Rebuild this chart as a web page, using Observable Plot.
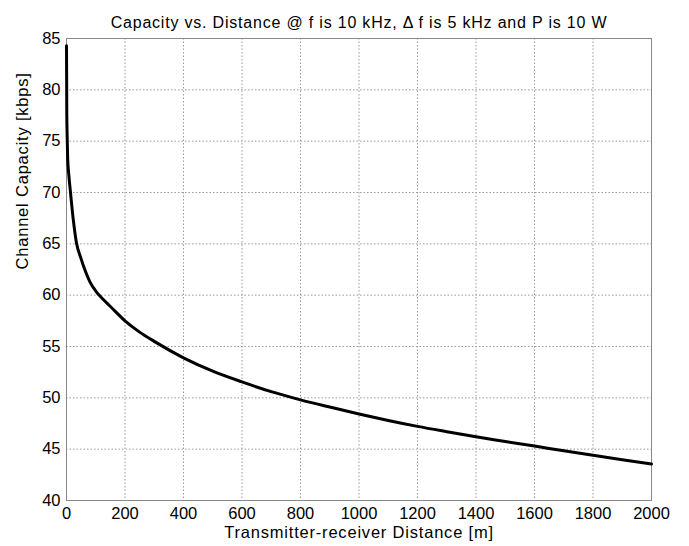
<!DOCTYPE html>
<html>
<head>
<meta charset="utf-8">
<script src="https://cdn.jsdelivr.net/npm/d3@7"></script>
<script src="https://cdn.jsdelivr.net/npm/@observablehq/plot@0.6"></script>
<style>
  html, body { margin: 0; padding: 0; background: #fff; }
</style>
</head>
<body>
<div id="chart"></div>
<script>
const distance = [0, 1, 2, 4, 8, 14, 23, 34, 48, 65, 80, 100, 125, 150, 200, 250, 300, 400, 500, 600, 700, 800, 900, 1000, 1100, 1200, 1300, 1400, 1500, 1600, 1700, 1800, 1900, 2000];
const capacity = [84.3, 77.5, 75.8, 73.3, 71.7, 69.9, 67.4, 65.1, 63.7, 62.3, 61.3, 60.4, 59.6, 58.9, 57.5, 56.4, 55.5, 53.9, 52.6, 51.55, 50.6, 49.8, 49.1, 48.43, 47.8, 47.22, 46.7, 46.2, 45.75, 45.3, 44.85, 44.4, 43.97, 43.55];
const xTicks = [0, 200, 400, 600, 800, 1000, 1200, 1400, 1600, 1800, 2000];
const yTicks = [40, 45, 50, 55, 60, 65, 70, 75, 80, 85];
const titleText = "Capacity vs. Distance @ f is 10 kHz, \u0394 f is 5 kHz and P is 10 W";
const xLabel = "Transmitter-receiver Distance [m]";
const yLabel = "Channel Capacity [kbps]";

const data = distance.map((d, i) => ({d, c: capacity[i]}));
const font = "'Liberation Sans', Arial, sans-serif";

const chart = Plot.plot({
  width: 689,
  height: 546,
  marginLeft: 66,
  marginRight: 38,
  marginTop: 38,
  marginBottom: 46,
  style: {fontFamily: font, fontSize: "15px", background: "#fff", color: "#000"},
  x: {domain: [0, 2000], label: null},
  y: {domain: [40, 85], label: null},
  marks: [
    Plot.gridX(xTicks.slice(1, -1), {stroke: "#9a9a9a", strokeOpacity: 1, strokeDasharray: "1.5,2"}),
    Plot.gridY(yTicks.slice(1, -1), {stroke: "#9a9a9a", strokeOpacity: 1, strokeDasharray: "1.5,2"}),
    Plot.frame({stroke: "#888"}),
    Plot.axisX(xTicks, {tickSize: 0, tickPadding: 7, fontSize: 16.5, tickFormat: d => String(d)}),
    Plot.axisY(yTicks, {tickSize: 0, tickPadding: 6, fontSize: 16.5, tickFormat: d => String(d)}),
    Plot.line(data, {x: "d", y: "c", stroke: "#000", strokeWidth: 3, curve: "monotone-x"}),
    Plot.text([titleText], {text: d => d, frameAnchor: "top", dy: -22, fontSize: 16}),
    Plot.text([xLabel], {text: d => d, frameAnchor: "bottom", dy: 37.5, fontSize: 16.5}),
    Plot.text([yLabel], {text: d => d, frameAnchor: "left", dx: -44, rotate: -90, fontSize: 16.5})
  ]
});
d3.select(chart).selectAll('g[aria-label="text"] text').style("letter-spacing", "0.8px");
document.getElementById("chart").appendChild(chart);
</script>
</body>
</html>
